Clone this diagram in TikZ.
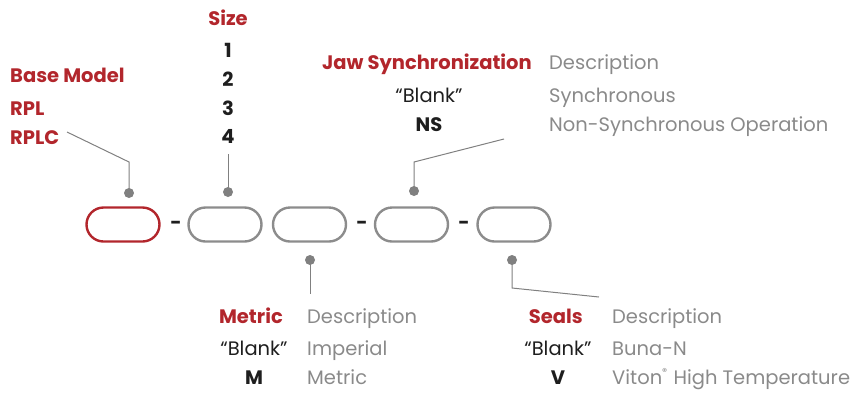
\documentclass[tikz,border=0pt]{standalone}
\usepackage{fontspec}
\setmainfont{Poppins}
\usetikzlibrary{shapes.misc}
\definecolor{cred}{HTML}{B2262C}
\definecolor{cgray}{HTML}{8A8A8A}
\definecolor{cblack}{HTML}{1E1E1E}
\definecolor{cpill}{HTML}{8C8C8C}
\definecolor{cline}{HTML}{808080}
\tikzset{
  pill/.style={rounded rectangle, draw=cpill, line width=2.4pt, minimum width=73pt, minimum height=34pt, inner sep=0pt},
  redpill/.style={pill, draw=cred},
  dot/.style={circle, fill=cline, inner sep=0pt, minimum size=10pt},
  leader/.style={draw=cline, line width=1pt},
  head/.style={font=\fontsize{19.5}{19.5}\selectfont\bfseries, text=cred, inner sep=0pt},
  code/.style={font=\fontsize{19.5}{19.5}\selectfont, text=cblack, inner sep=0pt},
  bcode/.style={font=\fontsize{19.5}{19.5}\selectfont\bfseries, text=cblack, inner sep=0pt},
  desc/.style={font=\fontsize{19.5}{19.5}\selectfont, text=cgray, inner sep=0pt},
  sep/.style={font=\fontsize{19.5}{19.5}\selectfont\bfseries, text=cblack, inner sep=0pt}
}
\begin{document}
\begin{tikzpicture}[x=1pt,y=-1pt]
\useasboundingbox (0,0) rectangle (857,392);
% pills
\node[redpill] (p1) at (123,224.5) {};
\node[pill] (p2) at (225,224.5) {};
\node[pill] (p3) at (309.5,224.5) {};
\node[pill] (p4) at (411.5,224.5) {};
\node[pill] (p5) at (514,224.5) {};
\node[sep] (s1) at (176,225) {-};
\node[sep] (s2) at (362,225) {-};
\node[sep] (s3) at (464,225) {-};
% dots
\node[dot] (d1) at (129,193) {};
\node[dot] (d2) at (228,192) {};
\node[dot] (d4) at (414,191) {};
\node[dot] (d3) at (310,260) {};
\node[dot] (d5) at (512,260) {};
% leader coordinates
\coordinate (b1) at (129,162);
\coordinate (e1) at (67,132);
\coordinate (e2) at (228,154);
\coordinate (b4) at (414,162);
\coordinate (e4) at (504,139);
\coordinate (e3) at (310,294);
\coordinate (b5) at (512,288);
\coordinate (e5) at (599,297);
\draw[leader] (d1.center) -- (b1) -- (e1);
\draw[leader] (d2.center) -- (e2);
\draw[leader] (d4.center) -- (b4) -- (e4);
\draw[leader] (d3.center) -- (e3);
\draw[leader] (d5.center) -- (b5) -- (e5);
% base model
\node[head, anchor=base west] (bm) at (10,82.5) {Base Model};
\node[head, anchor=base west] (rpl) at (10,115) {RPL};
\node[head, anchor=base west] (rplc) at (10,144) {RPLC};
% size
\node[head, anchor=base] (sz) at (228,25.5) {Size};
\node[bcode, anchor=base] (n1) at (228,57) {1};
\node[bcode, anchor=base] (n2) at (228,86) {2};
\node[bcode, anchor=base] (n3) at (228,115) {3};
\node[bcode, anchor=base] (n4) at (228,143.5) {4};
% jaw
\node[head, anchor=base east] (jaw) at (532,69) {Jaw Synchronization};
\node[desc, anchor=base west] (jd) at (549,69) {Description};
\node[code, anchor=base] (jb) at (429,102) {“Blank”};
\node[desc, anchor=base west] (js) at (549,102) {Synchronous};
\node[bcode, anchor=base] (jn) at (429,131) {NS};
\node[desc, anchor=base west] (jns) at (549,131) {Non-Synchronous Operation};
% metric
\node[head, anchor=base east] (met) at (283,323) {Metric};
\node[desc, anchor=base west] (md) at (307,323) {Description};
\node[code, anchor=base] (mb) at (254,355) {“Blank”};
\node[desc, anchor=base west] (mi) at (307,355) {Imperial};
\node[bcode, anchor=base] (mm) at (254,384) {M};
\node[desc, anchor=base west] (mme) at (307,384) {Metric};
% seals
\node[head, anchor=base east] (se) at (583,323) {Seals};
\node[desc, anchor=base west] (sd) at (612,323) {Description};
\node[code, anchor=base] (sb) at (558,355) {“Blank”};
\node[desc, anchor=base west] (sbn) at (612,355) {Buna-N};
\node[bcode, anchor=base] (sv) at (558,384) {V};
\node[desc, anchor=base west] (svi) at (612,384) {Viton\raisebox{0.75ex}{\fontsize{10}{10}\selectfont ®}\hspace{1pt} High Temperature};
\end{tikzpicture}
\end{document}
